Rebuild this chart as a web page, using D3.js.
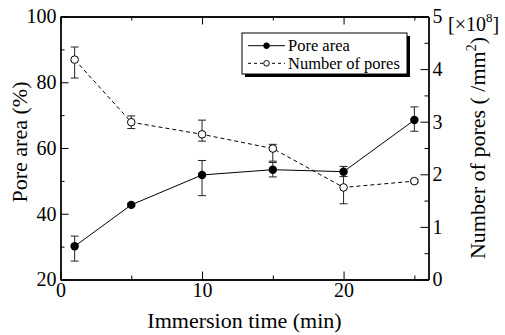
<!DOCTYPE html>
<html>
<head>
<meta charset="utf-8">
<script src="https://cdn.jsdelivr.net/npm/d3@7"></script>
<style>
  html, body { margin: 0; padding: 0; background: #fff; }
  svg { display: block; }
</style>
</head>
<body>
<svg id="chart" width="505" height="335"></svg>
<script>
// Immersion time (min)
const times = [1, 5, 10, 15, 20, 25];

// Pore area (%) with error bar limits
const poreArea     = [30.1, 42.7, 51.8, 53.4, 52.8, 68.5];
const poreAreaLow  = [25.6, 42.2, 45.5, 51.2, 51.3, 65.1];
const poreAreaHigh = [33.2, 43.2, 56.2, 55.6, 54.4, 72.5];

// Number of pores (x10^8 /mm^2) with error bar limits
const poreCount     = [4.18, 2.99, 2.76, 2.49, 1.75, 1.87];
const poreCountLow  = [3.83, 2.87, 2.63, 2.25, 1.44, 1.84];
const poreCountHigh = [4.42, 3.11, 3.03, 2.57, 2.06, 1.90];

// Axis ticks
const xMajor = [0, 10, 20];
const xMinor = [5, 15, 25];
const yLeftMajor = [20, 40, 60, 80, 100];
const yLeftMinor = [30, 50, 70, 90];
const yRightMajor = [0, 1, 2, 3, 4, 5];
const yRightMinor = [0.5, 1.5, 2.5, 3.5, 4.5];

const seriesNames = ["Pore area", "Number of pores"];

const FONT = "Liberation Serif, Tinos, Times New Roman, Times, DejaVu Serif, Noto Serif, serif";

const margin = { left: 60.5, top: 16.5 };
const width = 368, height = 263;

const svg = d3.select("#chart").attr("font-family", FONT);
const g = svg.append("g").attr("transform", `translate(${margin.left},${margin.top})`);

const x = d3.scaleLinear().domain([0, 26]).range([0, width]);
const yL = d3.scaleLinear().domain([20, 100]).range([height, 0]);
const yR = d3.scaleLinear().domain([0, 5]).range([height, 0]);

function styleAxis(sel) {
  sel.attr("font-family", FONT).attr("font-size", 20);
  sel.selectAll("path.domain").attr("stroke", "#000").attr("stroke-width", 1.3);
  sel.selectAll(".tick line").attr("stroke", "#000").attr("stroke-width", 1);
  sel.selectAll(".tick text").attr("fill", "#000");
}

// Bottom axis
g.append("g").attr("transform", `translate(0,${height})`)
  .call(d3.axisBottom(x).tickValues(xMajor).tickSize(-8).tickSizeOuter(0).tickPadding(3).tickFormat(d3.format("d")))
  .call(styleAxis);
g.append("g").attr("transform", `translate(0,${height})`)
  .call(d3.axisBottom(x).tickValues(xMinor).tickSize(-4).tickSizeOuter(0).tickFormat(""))
  .call(styleAxis);

// Top axis (ticks only)
g.append("g")
  .call(d3.axisTop(x).tickValues(xMajor).tickSize(-8).tickSizeOuter(0).tickFormat(""))
  .call(styleAxis);
g.append("g")
  .call(d3.axisTop(x).tickValues(xMinor).tickSize(-4).tickSizeOuter(0).tickFormat(""))
  .call(styleAxis);

// Left axis
g.append("g")
  .call(d3.axisLeft(yL).tickValues(yLeftMajor).tickSize(-8).tickSizeOuter(0).tickPadding(4).tickFormat(d3.format("d")))
  .call(styleAxis);
g.append("g")
  .call(d3.axisLeft(yL).tickValues(yLeftMinor).tickSize(-4).tickSizeOuter(0).tickFormat(""))
  .call(styleAxis);

// Right axis
g.append("g").attr("transform", `translate(${width},0)`)
  .call(d3.axisRight(yR).tickValues(yRightMajor).tickSize(-8).tickSizeOuter(0).tickPadding(4).tickFormat(d3.format("d")))
  .call(styleAxis);
g.append("g").attr("transform", `translate(${width},0)`)
  .call(d3.axisRight(yR).tickValues(yRightMinor).tickSize(-4).tickSizeOuter(0).tickFormat(""))
  .call(styleAxis);

// Axis titles
svg.append("text")
  .attr("x", margin.left + x(13)).attr("y", 328)
  .attr("text-anchor", "middle")
  .attr("font-family", FONT).attr("font-size", 22)
  .text("Immersion time (min)");

svg.append("text")
  .attr("transform", `translate(27,${margin.top + height / 2 - 6}) rotate(-90)`)
  .attr("text-anchor", "middle")
  .attr("font-family", FONT).attr("font-size", 22)
  .text("Pore area (%)");

const rTitle = svg.append("text")
  .attr("transform", `translate(485,${margin.top + height / 2}) rotate(-90)`)
  .attr("text-anchor", "middle")
  .attr("font-family", FONT).attr("font-size", 22);
rTitle.append("tspan").text("Number of pores ( /mm");
rTitle.append("tspan").attr("dy", -9).attr("font-size", 14).text("2");
rTitle.append("tspan").attr("dy", 9).text(")");

const unit = svg.append("text")
  .attr("x", 448).attr("y", 31)
  .attr("font-family", FONT).attr("font-size", 20);
unit.append("tspan").text("[×10");
unit.append("tspan").attr("dy", -9).attr("font-size", 13).text("8");
unit.append("tspan").attr("dy", 9).text("]");

// Error bars
function errorBars(cls, scale, lows, highs) {
  const eb = g.append("g").attr("class", cls).attr("stroke", "#222").attr("stroke-width", 1);
  times.forEach((t, i) => {
    const cx = x(t), y0 = scale(lows[i]), y1 = scale(highs[i]);
    eb.append("line").attr("x1", cx).attr("x2", cx).attr("y1", y0).attr("y2", y1);
    eb.append("line").attr("x1", cx - 4).attr("x2", cx + 4).attr("y1", y0).attr("y2", y0);
    eb.append("line").attr("x1", cx - 4).attr("x2", cx + 4).attr("y1", y1).attr("y2", y1);
  });
}
errorBars("err-area", yL, poreAreaLow, poreAreaHigh);
errorBars("err-count", yR, poreCountLow, poreCountHigh);

// Lines
const lineArea = d3.line().x((d, i) => x(times[i])).y(d => yL(d));
const lineCount = d3.line().x((d, i) => x(times[i])).y(d => yR(d));

g.append("path").datum(poreCount)
  .attr("d", lineCount).attr("fill", "none")
  .attr("stroke", "#000").attr("stroke-width", 1)
  .attr("stroke-dasharray", "4,3");

g.append("path").datum(poreArea)
  .attr("d", lineArea).attr("fill", "none")
  .attr("stroke", "#000").attr("stroke-width", 1);

// Markers
g.selectAll("circle.count").data(poreCount).join("circle")
  .attr("class", "count")
  .attr("cx", (d, i) => x(times[i])).attr("cy", d => yR(d)).attr("r", 3.8)
  .attr("fill", "#fff").attr("stroke", "#000").attr("stroke-width", 1);

g.selectAll("circle.area").data(poreArea).join("circle")
  .attr("class", "area")
  .attr("cx", (d, i) => x(times[i])).attr("cy", d => yL(d)).attr("r", 4.2)
  .attr("fill", "#000");

// Legend
const lg = svg.append("g").attr("transform", "translate(242,33)");
lg.append("rect").attr("x", 3).attr("y", 3).attr("width", 165).attr("height", 41).attr("fill", "#000");
lg.append("rect").attr("x", 0).attr("y", 0).attr("width", 165).attr("height", 41)
  .attr("fill", "#fff").attr("stroke", "#000").attr("stroke-width", 1);

const rows = [
  { name: seriesNames[0], y: 12.7, dash: null, fill: "#000" },
  { name: seriesNames[1], y: 30.3, dash: "3,3", fill: "#fff" }
];
rows.forEach(r => {
  lg.append("line").attr("x1", 6).attr("x2", 43).attr("y1", r.y).attr("y2", r.y)
    .attr("stroke", "#000").attr("stroke-width", 1).attr("stroke-dasharray", r.dash);
  lg.append("circle").attr("cx", 24.5).attr("cy", r.y).attr("r", 2.8)
    .attr("fill", r.fill).attr("stroke", "#000").attr("stroke-width", 1);
  lg.append("text").attr("x", 46).attr("y", r.y + 5.5)
    .attr("font-family", FONT).attr("font-size", 16.5).text(r.name);
});
</script>
</body>
</html>
